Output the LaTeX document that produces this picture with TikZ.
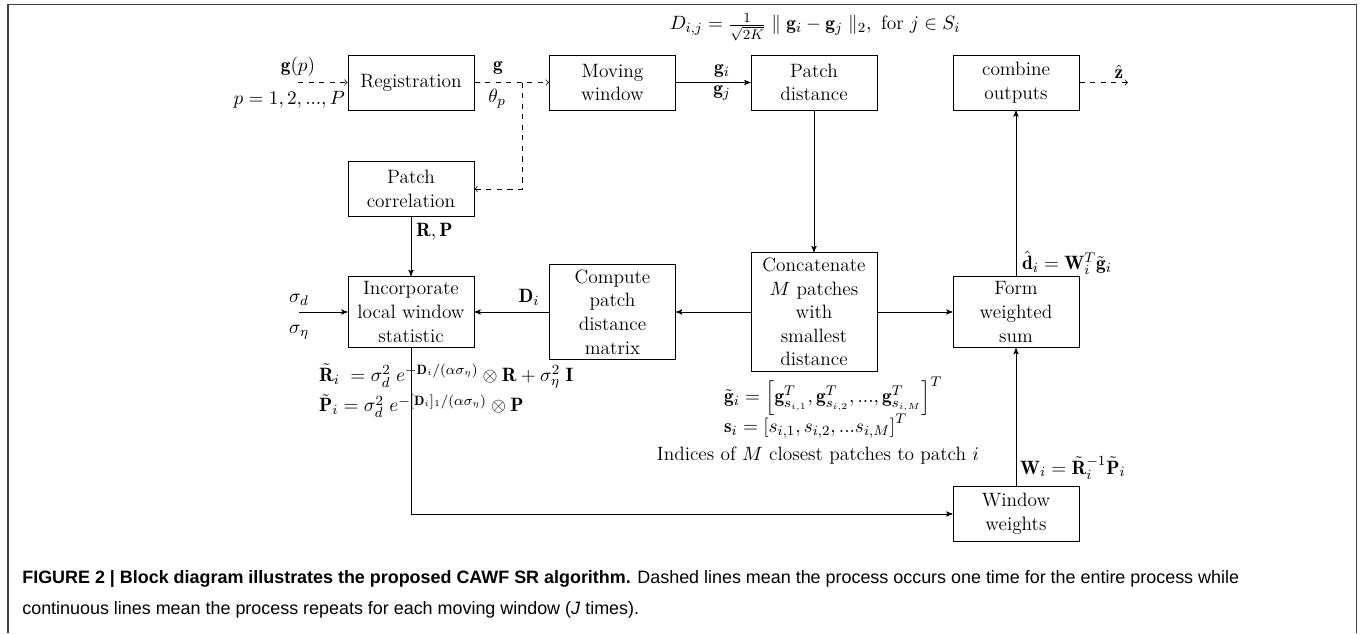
\documentclass[tikz,border=0pt]{standalone}
\usepackage{amsmath,amssymb}
\usepackage{fontspec}
\newfontfamily\capfont{Liberation Sans}
\usepackage{tikz}
\usetikzlibrary{arrows}
\tikzset{
	block/.style={rectangle,draw,align=center,minimum width=2.52cm,minimum height=1.1cm,inner sep=3pt,line width=0.5pt},
	onetime/.style={dashed,-to},
	lbl/.style={inner sep=1pt},
	figcap/.style={anchor=base west,inner sep=0pt,font=\capfont\fontsize{10.2}{12}\selectfont}
}
\newcommand{\vb}[1]{\mathbf{#1}}

\begin{document}
\begin{tikzpicture}[->,>=stealth',x=0.02cm,y=-0.02cm,font=\fontsize{11}{13.4}\selectfont]
	\useasboundingbox (0,0) rectangle (1363,633);
	% frame
	\draw[-,line width=1pt,black!75] (8,633) -- (8,4.5) -- (1356.5,4.5) -- (1356.5,633);
	% blocks
	\node[block] (reg) at (411,82.5) {Registration};
	\node[block] (mov) at (612.5,82.5) {Moving\\window};
	\node[block] (pdist) at (814,82.5) {Patch\\distance};
	\node[block] (comb) at (1016,82.5) {combine\\outputs};
	\node[block] (pcorr) at (411,189) {Patch\\correlation};
	\node[block] (incorp) at (411,312) {Incorporate\\local window\\statistic};
	\node[block] (comp) at (612.5,312) {Compute\\patch\\distance\\matrix};
	\node[block] (conc) at (814,312) {Concatenate\\$M$ patches\\with\\smallest\\distance};
	\node[block] (form) at (1016,312) {Form\\weighted\\sum};
	\node[block] (winw) at (1016,514) {Window\\weights};
	% free ends
	\coordinate (gin) at (298,82.5);
	\coordinate (br) at (522,82.5);
	\coordinate (sig) at (299,312);
	\coordinate (zout) at (1128,82.5);
	% connectors
	\draw[onetime] (gin) -- (reg);
	\draw[onetime] (reg) -- (mov);
	\draw[onetime] (br) |- (pcorr);
	\draw (mov) -- (pdist);
	\draw (pdist) -- (conc);
	\draw (conc) -- (comp);
	\draw (conc) -- (form);
	\draw (comp) -- (incorp);
	\draw (pcorr) -- (incorp);
	\draw (sig) -- (incorp);
	\draw (incorp) |- (winw);
	\draw (winw) -- (form);
	\draw (form) -- (comb);
	\draw[onetime] (comb) -- (zout);
	% labels
	\node[lbl] (gp) at (298,67) {$\vb{g}(p)$};
	\node[lbl,anchor=east] (prange) at (347,100) {$p=1,2,...,P$};
	\node[lbl] (glab) at (498,68) {$\vb{g}$};
	\node[lbl] (thlab) at (497,99) {$\theta_p$};
	\node[lbl] (gilab) at (722,71) {$\vb{g}_i$};
	\node[lbl] (gjlab) at (722,93) {$\vb{g}_j$};
	\node[lbl] (dform) at (815,27) {$D_{i,j}=\frac{1}{\sqrt{2K}}\parallel\vb{g}_i-\vb{g}_j\parallel_2,\ \text{for}\ j\in S_i$};
	\node[lbl] (zlab) at (1119,72) {$\hat{\vb{z}}$};
	\node[lbl,anchor=west] (rplab) at (414,232) {$\vb{R},\vb{P}$};
	\node[lbl] (sdlab) at (299,300) {$\sigma_d$};
	\node[lbl] (selab) at (299,332) {$\sigma_\eta$};
	\node[lbl] (dilab) at (529,297) {$\vb{D}_i$};
	\node[lbl,anchor=west] (rform) at (317,376) {$\tilde{\vb{R}}_i\;=\sigma_d^2\;e^{-\vb{D}_i/(\alpha\sigma_\eta)}\otimes\vb{R}+\sigma_\eta^2\;\vb{I}$};
	\node[lbl,anchor=west] (pform) at (317,406) {$\tilde{\vb{P}}_i=\sigma_d^2\;e^{-[\vb{D}_i]_1/(\alpha\sigma_\eta)}\otimes\vb{P}$};
	\node[lbl,anchor=west] (dhat) at (1020,263) {$\hat{\vb{d}}_i=\vb{W}_i^T\tilde{\vb{g}}_i$};
	\node[lbl,anchor=west] (gtil) at (722,396) {$\tilde{\vb{g}}_i=\left[\vb{g}^T_{s_{i,1}},\vb{g}^T_{s_{i,2}},...,\vb{g}^T_{s_{i,M}}\right]^T$};
	\node[lbl,anchor=west] (sform) at (722,426) {$\vb{s}_i=\left[s_{i,1},s_{i,2},...s_{i,M}\right]^T$};
	\node[lbl] (idx) at (818,456) {Indices of $M$ closest patches to patch $i$};
	\node[lbl,anchor=west] (wform) at (1018,468) {$\vb{W}_i=\tilde{\vb{R}}_i^{-1}\tilde{\vb{P}}_i$};
	% caption
	\node[figcap] (cap1) at (22,583) {\textbf{FIGURE 2 | Block diagram illustrates the proposed CAWF SR algorithm.} Dashed lines mean the process occurs one time for the entire process while};
	\node[figcap] (cap2) at (22,614) {continuous lines mean the process repeats for each moving window (\textit{J} times).};
\end{tikzpicture}
\end{document}
